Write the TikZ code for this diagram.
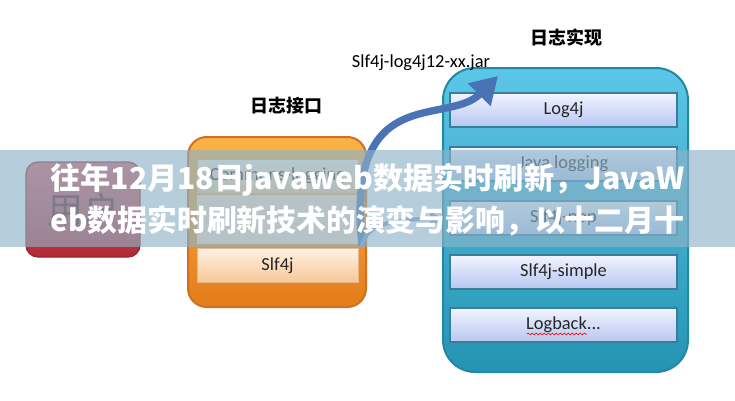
\documentclass[tikz,border=0pt]{standalone}
\usepackage{fontspec}
\setmainfont{Carlito}
\newfontfamily\cjk{Noto Sans CJK SC}
\usepackage{graphicx}
\usepackage{tikz}
\usetikzlibrary{arrows.meta,decorations.pathmorphing}
\usepackage{xcolor}
\definecolor{orangetop}{HTML}{F9B447}
\definecolor{orangebot}{HTML}{E47C1B}
\definecolor{orangeline}{HTML}{D27020}
\definecolor{peachtop}{HTML}{FFF1E2}
\definecolor{peachbot}{HTML}{F8C796}
\definecolor{cyantop}{HTML}{5CC6E6}
\definecolor{cyanbot}{HTML}{2594B2}
\definecolor{cyanline}{HTML}{2388A6}
\definecolor{lavtop}{HTML}{F2F4FF}
\definecolor{lavbot}{HTML}{B7C7F0}
\definecolor{lavline}{HTML}{3A7C9C}
\definecolor{redtop}{HTML}{E06068}
\definecolor{redbot}{HTML}{B02A35}
\definecolor{redline}{HTML}{9A2430}
\definecolor{redtext}{HTML}{5A1A20}
\definecolor{arrowblue}{HTML}{4A73B5}
\definecolor{bannerblue}{HTML}{8DB3C8}
\def\pxu{0.75pt}
\def\lbl{\fontsize{13.8}{16}\selectfont}
\def\cjktitle{\cjk\bfseries\fontsize{13.5}{16}\selectfont}
\def\cjkbig{\cjk\fontsize{27}{30}\selectfont}
\def\headfont{\cjk\bfseries\fontsize{22.5}{26}\selectfont}

\begin{document}
\begin{tikzpicture}[x=0.75pt, y=-0.75pt,
	ifacebox/.style={draw=orangeline!50, line width=0.6pt, top color=peachtop, bottom color=peachbot, minimum width=161*\pxu, minimum height=34*\pxu, inner sep=0pt, font=\lbl, text=black!85},
	implbox/.style={draw=lavline, line width=0.8pt, top color=lavtop, bottom color=lavbot, minimum width=227*\pxu, minimum height=34*\pxu, inner sep=0pt, font=\lbl, text=black!85},
	flow/.style={line width=5.5pt, arrowblue, -{Triangle[length=20pt, width=23pt]}}]
	\useasboundingbox (0,0) rectangle (735,400);
	\fill[white] (0,0) rectangle (735,400);

	\node (ifacetitle) at (286,106) {\cjktitle 日志接口};
	\node (impltitle) at (566,38) {\cjktitle 日志实现};

	\node[rounded corners=9pt, draw=redline, line width=1pt, top color=redtop, bottom color=redbot, minimum width=114*\pxu, minimum height=95*\pxu, text=redtext, font=\cjkbig] (user) at (83,209.5) {用户};

	\node[rounded corners=14pt, draw=orangeline, line width=1.5pt, top color=orangetop, bottom color=orangebot, minimum width=178*\pxu, minimum height=170*\pxu] (iface) at (277,222) {};
	\fill[peachtop!60!peachbot] (197,195) rectangle (358,244);
	\node[ifacebox] (commons) at (277.5,176) {Commons-logging};
	\node[ifacebox] (slf4j) at (277.5,265.5) {Slf4j};

	\node[rounded corners=24pt, draw=cyanline, line width=1.5pt, top color=cyantop, bottom color=cyanbot, minimum width=245*\pxu, minimum height=304*\pxu] (impl) at (565.5,220) {};
	\node[implbox] (log4j) at (563.5,110) {Log4j};
	\node[implbox] (jul) at (563.5,164) {Java logging};
	\node[implbox] (nop) at (563.5,218) {Slf4j-nop};
	\node[implbox] (simple) at (563.5,272) {Slf4j-simple};
	\node[implbox] (logback) at (563.5,325) {Logback...};
	\draw[red, line width=0.5pt, decorate, decoration={snake, amplitude=0.7pt, segment length=3pt}] (527,334) -- (587,334);

	\coordinate (fork) at (362,246);
	\coordinate (jartip) at (498,76);
	\coordinate (noptip) at (442,219);
	\draw[flow] (fork) .. controls (345,80) and (447,127) .. (jartip);
	\draw[flow, line width=3pt, arrowblue!70, -{Triangle[length=9pt, width=12pt]}] (fork) .. controls (366,222) and (400,219) .. (noptip);
	\node[font=\lbl] (jarlabel) at (421,63) {Slf4j-log4j12-xx.jar};

	% banner over the picture
	\fill[bannerblue, opacity=0.64] (0,150) rectangle (735,247);
	\node[anchor=west, text=white, inner sep=0pt] (headline1) at (50,180) {\resizebox{475.5pt}{!}{\headfont 往年12月18日javaweb数据实时刷新，JavaW}};
	\node[anchor=west, text=white, inner sep=0pt] (headline2) at (50,221) {\resizebox{475.5pt}{!}{\headfont eb数据实时刷新技术的演变与影响，以十二月十}};
\end{tikzpicture}
\end{document}
